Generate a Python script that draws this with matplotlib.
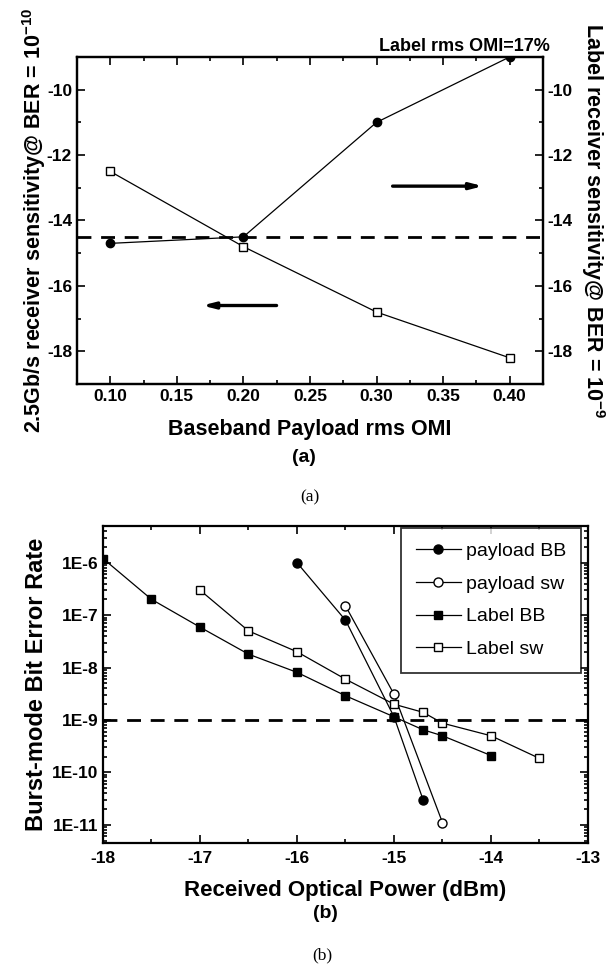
import numpy as np
import matplotlib
matplotlib.use("Agg")
import matplotlib.pyplot as plt
from matplotlib.ticker import MultipleLocator, FixedLocator, FixedFormatter, LogLocator, NullFormatter

# --- Fonts ---
plt.rcParams['font.family'] = ['Liberation Sans', 'DejaVu Sans']
plt.rcParams['font.weight'] = 'bold'
plt.rcParams['axes.labelweight'] = 'bold'
plt.rcParams['mathtext.fontset'] = 'custom'
plt.rcParams['mathtext.rm'] = 'Liberation Sans:bold'
plt.rcParams['mathtext.bf'] = 'Liberation Sans:bold'
plt.rcParams['axes.unicode_minus'] = False

# --- Data: panel (a) ---
omi = [0.10, 0.20, 0.30, 0.40]
payload_sens = [-14.7, -14.5, -11.0, -9.0]     # left axis, filled circles
label_sens = [-12.5, -14.8, -16.8, -18.2]      # right axis, open squares
ref_a = -14.5

# --- Data: panel (b) ---
pbb_x = [-16.0, -15.5, -15.0, -14.7]
pbb_y = [1.0e-6, 8.0e-8, 1.15e-9, 3.0e-11]
psw_x = [-15.5, -15.0, -14.5]
psw_y = [1.5e-7, 3.1e-9, 1.1e-11]
lbb_x = [-18.0, -17.5, -17.0, -16.5, -16.0, -15.5, -15.0, -14.7, -14.5, -14.0]
lbb_y = [1.2e-6, 2.0e-7, 5.9e-8, 1.8e-8, 8.1e-9, 2.9e-9, 1.15e-9, 6.5e-10, 5.0e-10, 2.1e-10]
lsw_x = [-17.0, -16.5, -16.0, -15.5, -15.0, -14.7, -14.5, -14.0, -13.5]
lsw_y = [3.0e-7, 5.0e-8, 2.0e-8, 6.0e-9, 2.0e-9, 1.4e-9, 8.7e-10, 5.0e-10, 1.85e-10]
ber_ticks = [1e-6, 1e-7, 1e-8, 1e-9, 1e-10, 1e-11]
ber_labels = ['1E-6', '1E-7', '1E-8', '1E-9', '1E-10', '1E-11']
ref_b = 1e-9

fig = plt.figure(figsize=(6.08, 9.67), dpi=100)


def style_ticks(ax):
    ax.tick_params(which='both', direction='in', top=True, labelsize=12.5, width=1.2)
    ax.tick_params(which='major', length=6)
    ax.tick_params(which='minor', length=3)
    for s in ax.spines.values():
        s.set_linewidth(1.6)


# --- Panel (a) ---
ax1 = fig.add_axes([0.1266, 0.6029, 0.7664, 0.3382])
ax1.plot(omi, payload_sens, '-o', color='black', lw=0.9, ms=6)
ax1.axhline(ref_a, color='black', lw=2.0, ls=(0, (5, 3.5)))
ax1.set_xlim(0.075, 0.425)
ax1.set_ylim(-19, -9)
ax1.xaxis.set_major_locator(MultipleLocator(0.05))
ax1.xaxis.set_major_formatter(matplotlib.ticker.FormatStrFormatter('%.2f'))
ax1.xaxis.set_minor_locator(MultipleLocator(0.025))
ax1.yaxis.set_major_locator(MultipleLocator(2))
ax1.yaxis.set_minor_locator(MultipleLocator(1))
style_ticks(ax1)
ax1.tick_params(which='both', right=False)
ax1.set_ylabel(r'2.5Gb/s receiver sensitivity@ BER = 10$^{-10}$', fontsize=15.5, labelpad=-1)

ax2 = ax1.twinx()
ax2.plot(omi, label_sens, '-s', color='black', lw=0.9, ms=5.5, mfc='white', mew=1.0)
ax2.set_ylim(-19, -9)
ax2.yaxis.set_major_locator(MultipleLocator(2))
ax2.yaxis.set_minor_locator(MultipleLocator(1))
style_ticks(ax2)
ax2.set_ylabel(r'Label receiver sensitivity@ BER = 10$^{-9}$', fontsize=15.5,
               rotation=-90, va='bottom', labelpad=4)

ax1.annotate('', xy=(0.382, -12.95), xytext=(0.31, -12.95), xycoords='data',
             arrowprops=dict(arrowstyle='-|>,head_length=0.7,head_width=0.18', color='black', lw=2.4))
ax1.annotate('', xy=(0.167, -16.6), xytext=(0.227, -16.6), xycoords='data',
             arrowprops=dict(arrowstyle='-|>,head_length=0.7,head_width=0.18', color='black', lw=2.4))
ax1.text(1.015, 1.006, 'Label rms OMI=17%', transform=ax1.transAxes, ha='right', va='bottom', fontsize=13)

fig.text(0.51, 1 - 430 / 967, 'Baseband Payload rms OMI', ha='center', va='center', fontsize=15.5)
fig.text(0.50, 1 - 458 / 967, '(a)', ha='center', va='center', fontsize=14)
fig.text(0.51, 1 - 497 / 967, '(a)', ha='center', va='center', fontsize=12.5,
         family=['Liberation Serif', 'DejaVu Serif'], weight='normal')

# --- Panel (b) ---
ax3 = fig.add_axes([0.1694, 0.1282, 0.7977, 0.3278])
ax3.set_yscale('log')
ax3.plot(pbb_x, pbb_y, '-o', color='black', lw=0.9, ms=6.5, label='payload BB')
ax3.plot(psw_x, psw_y, '-o', color='black', lw=0.9, ms=6.5, mfc='white', mew=1.0, label='payload sw')
ax3.plot(lbb_x, lbb_y, '-s', color='black', lw=0.9, ms=6, label='Label BB')
ax3.plot(lsw_x, lsw_y, '-s', color='black', lw=0.9, ms=6, mfc='white', mew=1.0, label='Label sw')
ax3.axhline(ref_b, color='black', lw=2.0, ls=(0, (5, 3.5)))
ax3.set_xlim(-18, -13)
ax3.set_ylim(4.5e-12, 5e-6)
ax3.xaxis.set_major_locator(MultipleLocator(1))
ax3.xaxis.set_minor_locator(MultipleLocator(0.5))
ax3.yaxis.set_major_locator(FixedLocator(ber_ticks))
ax3.yaxis.set_major_formatter(FixedFormatter(ber_labels))
ax3.yaxis.set_minor_locator(LogLocator(base=10, subs=np.arange(2, 10)))
ax3.yaxis.set_minor_formatter(NullFormatter())
style_ticks(ax3)
ax3.tick_params(which='both', right=True)
ax3.tick_params(axis='x', pad=6)
ax3.set_ylabel('Burst-mode Bit Error Rate', fontsize=17, labelpad=3)
ax3.set_xlabel('Received Optical Power (dBm)', fontsize=16, labelpad=10)
leg = ax3.legend(loc='upper right', bbox_to_anchor=(0.986, 0.995), borderaxespad=0,
                 prop={'weight': 'normal', 'size': 14}, fancybox=False, edgecolor='black',
                 handlelength=2.3, labelspacing=0.78, borderpad=0.75, handletextpad=0.3)
leg.get_frame().set_linewidth(1.3)

fig.text(0.535, 1 - 914 / 967, '(b)', ha='center', va='center', fontsize=14)
fig.text(0.53, 1 - 955 / 967, '(b)', ha='center', va='center', fontsize=12.5,
         family=['Liberation Serif', 'DejaVu Serif'], weight='normal')

fig.savefig('out.png', dpi=100)
